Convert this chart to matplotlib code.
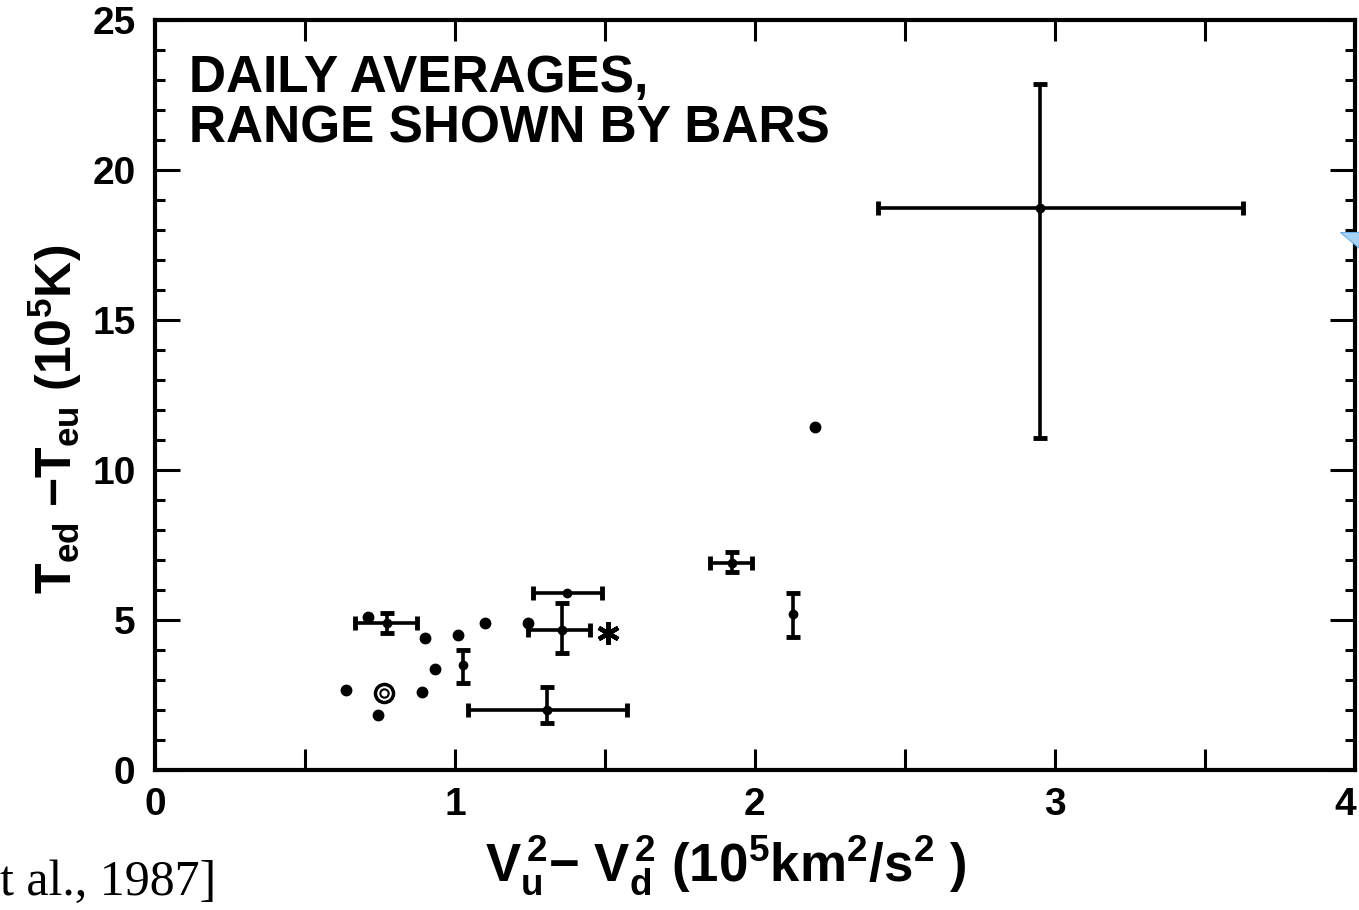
import numpy as np
import matplotlib
matplotlib.use('Agg')
import matplotlib.pyplot as plt
from matplotlib.patches import Polygon
from matplotlib.ticker import MultipleLocator
from matplotlib.transforms import ScaledTranslation

plt.rcParams['font.family'] = ['Liberation Sans', 'DejaVu Sans']
plt.rcParams['mathtext.fontset'] = 'custom'
plt.rcParams['mathtext.rm'] = 'Liberation Sans:bold'
plt.rcParams['mathtext.bf'] = 'Liberation Sans:bold'
plt.rcParams['mathtext.it'] = 'Liberation Sans:bold'
plt.rcParams['mathtext.default'] = 'rm'

# plain daily averages (no bars)
dot_x = [0.637, 0.743, 0.890, 0.933, 0.900, 1.010, 1.100, 0.710, 1.243, 2.200]
dot_y = [2.67, 1.83, 2.60, 3.37, 4.40, 4.50, 4.90, 5.10, 4.90, 11.43]

# special symbols
circled_pt = (0.763, 2.57)
star_pt = (1.51, 4.57)

# averages with range bars: centre, x range, y range (None = no bar)
bar_x = [0.773, 1.027, 1.373, 1.357, 1.307, 1.923, 2.127, 2.950]
bar_y = [4.90, 3.50, 5.90, 4.67, 2.00, 6.90, 5.20, 18.73]
bar_xrange = [(0.667, 0.873), None, (1.26, 1.49), (1.243, 1.45),
              (1.043, 1.573), (1.85, 1.99), None, (2.41, 3.627)]
bar_yrange = [(4.57, 5.23), (2.90, 4.00), None, (3.90, 5.57),
              (1.57, 2.77), (6.60, 7.27), (4.43, 5.90), (11.07, 22.87)]

x_ticks = [0, 1, 2, 3, 4]
y_ticks = [0, 5, 10, 15, 20, 25]

fig = plt.figure(figsize=(13.59, 9.10), dpi=100)
ax = fig.add_axes([0.114, 0.154, 0.883, 0.824])

ax.plot(dot_x, dot_y, 'o', color='black', ms=7.5, zorder=3)

for i in range(len(bar_x)):
    xe = None
    ye = None
    if bar_xrange[i] is not None:
        xe = [[bar_x[i] - bar_xrange[i][0]], [bar_xrange[i][1] - bar_x[i]]]
    if bar_yrange[i] is not None:
        ye = [[bar_y[i] - bar_yrange[i][0]], [bar_yrange[i][1] - bar_y[i]]]
    ax.errorbar([bar_x[i]], [bar_y[i]], xerr=xe, yerr=ye, fmt='o', color='black',
                ms=6, elinewidth=2.6, capsize=5, capthick=3.5, zorder=3)

# circled point
ax.plot([circled_pt[0]], [circled_pt[1]], 'o', mfc='white', mec='black', ms=13, mew=2.5, zorder=3)
ax.plot([circled_pt[0]], [circled_pt[1]], 'o', mfc='none', mec='black', ms=6, mew=1.5, zorder=4)

# asterisk
ax.plot([star_pt[0]], [star_pt[1]], marker=(6, 2, 0), color='black', ms=16, mew=3.2, zorder=3)

ax.set_xlim(0, 4)
ax.set_ylim(0, 25)
ax.set_xticks(x_ticks)
ax.set_yticks(y_ticks)
ax.xaxis.set_minor_locator(MultipleLocator(0.5))
ax.yaxis.set_minor_locator(MultipleLocator(1))
ax.tick_params(axis='both', which='both', direction='in', top=True, right=True,
               width=2.2, labelsize=28)
ax.tick_params(axis='x', which='both', length=15, pad=12)
ax.tick_params(axis='y', which='major', length=18, pad=14)
ax.tick_params(axis='y', which='minor', length=7)
for lab in ax.get_xticklabels() + ax.get_yticklabels():
    lab.set_fontweight('bold')
# keep the last x label inside the figure
last = ax.get_xticklabels()[-1]
last.set_transform(last.get_transform() + ScaledTranslation(-0.1, 0, fig.dpi_scale_trans))
for s in ax.spines.values():
    s.set_linewidth(3)

ax.set_xlabel(r'V$_{\rm u}^{\,2}$$-$ V$_{\rm d}^{\,2}$ (10$^{5}$km$^{2}$/s$^{2}$ )',
              fontsize=38, fontweight='bold')
ax.xaxis.set_label_coords(0.476, -0.084, transform=ax.transAxes)
ax.xaxis.label.set_va('top')
ax.set_ylabel(r'T$_{\rm ed}$ $-$T$_{\rm eu}$ (10$^{5}$K)',
              fontsize=36, fontweight='bold')
ax.yaxis.set_label_coords(-0.083, 0.467, transform=ax.transAxes)
ax.yaxis.label.set_va('center')

ax.text(0.028, 0.955, 'DAILY AVERAGES,\nRANGE SHOWN BY BARS', transform=ax.transAxes,
        fontsize=37, fontweight='bold', va='top', ha='left', linespacing=1.05)

# citation fragment at bottom-left
fig.text(0.0, 0.005, 't al., 1987]', fontsize=36, family=['Liberation Serif', 'DejaVu Serif'],
         ha='left', va='bottom')

# small blue slide artefact at the right edge
tri = Polygon([[0.986, 0.745], [1.0, 0.745], [1.0, 0.728]], closed=True,
              transform=fig.transFigure, facecolor='#a6d2f7', edgecolor='#6aaee8', lw=0.8)
fig.patches.append(tri)

fig.savefig('out.png', dpi=100)
